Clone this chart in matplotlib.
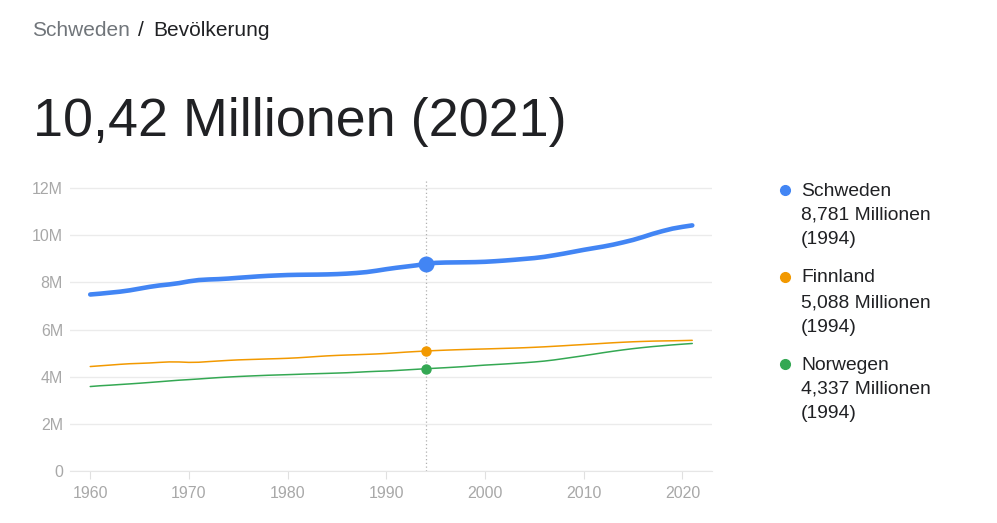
import numpy as np
import matplotlib.pyplot as plt
from matplotlib.lines import Line2D

plt.rcParams['font.family'] = ['Liberation Sans', 'DejaVu Sans']

years = list(range(1960, 2022))

schweden = [7.485, 7.520, 7.562, 7.604, 7.661, 7.734, 7.808, 7.868, 7.912, 7.968,
            8.043, 8.098, 8.122, 8.137, 8.161, 8.193, 8.222, 8.252, 8.276, 8.294,
            8.311, 8.320, 8.325, 8.329, 8.337, 8.350, 8.370, 8.398, 8.436, 8.493,
            8.559, 8.617, 8.668, 8.719, 8.781, 8.827, 8.841, 8.846, 8.851, 8.858,
            8.872, 8.896, 8.925, 8.958, 8.994, 9.030, 9.081, 9.148, 9.220, 9.299,
            9.378, 9.449, 9.519, 9.600, 9.696, 9.799, 9.923, 10.058, 10.175, 10.279,
            10.353, 10.416]

finnland = [4.430, 4.461, 4.491, 4.523, 4.549, 4.564, 4.581, 4.606, 4.626, 4.624,
            4.606, 4.612, 4.640, 4.666, 4.691, 4.712, 4.726, 4.739, 4.753, 4.765,
            4.780, 4.800, 4.827, 4.856, 4.882, 4.902, 4.918, 4.932, 4.947, 4.964,
            4.986, 5.014, 5.042, 5.066, 5.088, 5.108, 5.125, 5.140, 5.153, 5.165,
            5.176, 5.188, 5.201, 5.213, 5.228, 5.246, 5.266, 5.289, 5.313, 5.339,
            5.363, 5.388, 5.414, 5.439, 5.461, 5.480, 5.495, 5.508, 5.516, 5.522,
            5.530, 5.541]

norwegen = [3.582, 3.615, 3.639, 3.667, 3.694, 3.723, 3.754, 3.786, 3.819, 3.851,
            3.876, 3.903, 3.933, 3.961, 3.985, 4.007, 4.026, 4.043, 4.060, 4.073,
            4.086, 4.100, 4.116, 4.128, 4.140, 4.153, 4.167, 4.187, 4.209, 4.227,
            4.241, 4.262, 4.287, 4.312, 4.337, 4.359, 4.381, 4.405, 4.431, 4.462,
            4.491, 4.514, 4.538, 4.565, 4.592, 4.623, 4.661, 4.710, 4.769, 4.829,
            4.889, 4.953, 5.019, 5.080, 5.137, 5.189, 5.235, 5.277, 5.312, 5.348,
            5.379, 5.408]

names = ['Schweden', 'Finnland', 'Norwegen']
colors = ['#4285f4', '#f29900', '#34a853']
hover_year = 1994
y_ticks = [0, 2, 4, 6, 8, 10, 12]
y_labels = ['0', '2M', '4M', '6M', '8M', '10M', '12M']
x_ticks = [1960, 1970, 1980, 1990, 2000, 2010, 2020]

fig = plt.figure(figsize=(9.97, 5.23), dpi=100)
ax = fig.add_axes([70/997, 52/523, 642/997, 292.4/523])

series = [schweden, finnland, norwegen]
widths = [3.3, 1.1, 1.1]
msizes = [10.5, 6.5, 6.5]
idx = years.index(hover_year)

ax.axvline(hover_year, color='#b0b0b0', linestyle=(0, (1, 2)), linewidth=0.9, zorder=1)
for vals, c, lw, ms in zip(series, colors, widths, msizes):
    ax.plot(years, vals, color=c, linewidth=lw, solid_capstyle='round', zorder=3)
    ax.plot(years[idx], vals[idx], 'o', color=c, markersize=ms, zorder=4)

ax.set_xlim(1957.95, 2023.0)
ax.set_ylim(0, 12.4)
ax.set_yticks(y_ticks)
ax.set_yticklabels(y_labels)
ax.set_xticks(x_ticks)
ax.grid(axis='y', color='#ebebeb', linewidth=1)
ax.set_axisbelow(True)
for s in ['top', 'right', 'left']:
    ax.spines[s].set_visible(False)
ax.spines['bottom'].set_color('#e6e6e6')
ax.tick_params(axis='y', length=0, pad=5, labelsize=11.5, labelcolor='#a8a8a8')
ax.tick_params(axis='x', length=6, width=0.8, color='#e0e0e0', pad=5,
               labelsize=11.5, labelcolor='#a8a8a8')

# header
fig.text(32/997, 1 - 30/523, 'Schweden', fontsize=15, color='#70757a', va='center')
fig.text(138/997, 1 - 30/523, '/', fontsize=15, color='#202124', va='center')
fig.text(153/997, 1 - 30/523, 'Bevölkerung', fontsize=15, color='#202124', va='center')
fig.text(33/997, 1 - 122/523, '10,42 Millionen (2021)', fontsize=38.8, color='#202124', va='center')

# legend
for i, (n, c, vals) in enumerate(zip(names, colors, series)):
    y0 = 191 + i * 87
    fig.add_artist(Line2D([785/997], [1 - (y0 - 1)/523], marker='o', markersize=7,
                          color=c, linestyle='none', transform=fig.transFigure))
    lines = [n, f"{vals[idx]:.3f}".replace('.', ',') + ' Millionen', f'({hover_year})']
    for j, t in enumerate(lines):
        fig.text(801/997, 1 - (y0 + j * 24.5)/523, t, fontsize=13.9, color='#202124', va='center')

fig.savefig('out.png', dpi=100)
